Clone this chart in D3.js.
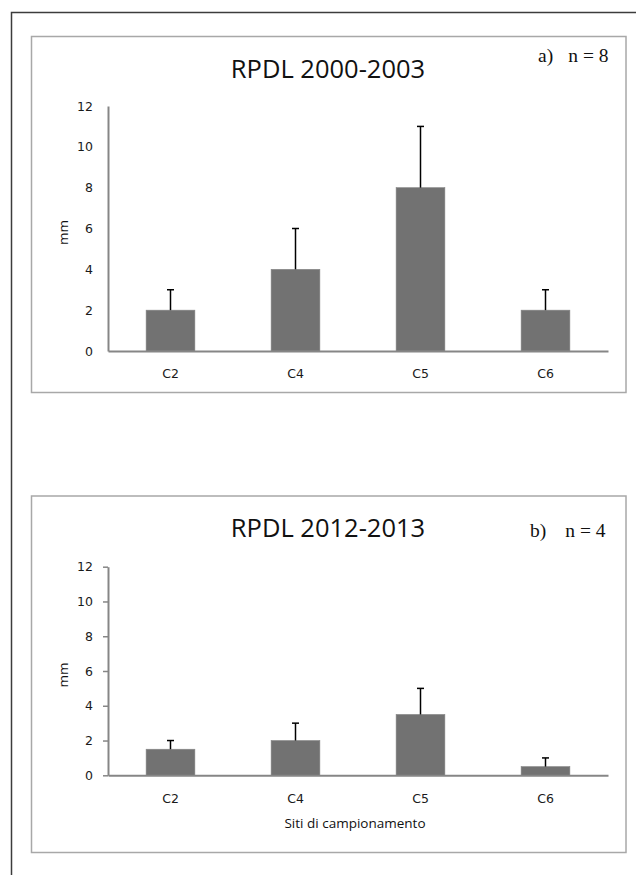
<!DOCTYPE html>
<html>
<head>
<meta charset="utf-8">
<script src="https://cdn.jsdelivr.net/npm/d3@7/dist/d3.min.js"></script>
<style>
  html, body { margin: 0; padding: 0; background: #fff; }
  svg { display: block; }
</style>
</head>
<body>
<script>
// ---- data ----
const categories = ["C2", "C4", "C5", "C6"];
const meansA = [2, 4, 8, 2];
const errorsA = [1, 2, 3, 1];
const meansB = [1.5, 2, 3.5, 0.5];
const errorsB = [0.5, 1, 1.5, 0.5];
const yTickValues = [0, 2, 4, 6, 8, 10, 12];
const titleA = "RPDL 2000-2003";
const titleB = "RPDL 2012-2013";
const tagA = ["a)", "n = 8"];
const tagB = ["b)", "n = 4"];
const yLabel = "mm";
const xLabel = "Siti di campionamento";

const W = 636, H = 875;
const svg = d3.select("body").append("svg").attr("width", W).attr("height", H);

// outer frame (extends beyond the picture to the right and bottom)
svg.append("path")
  .attr("d", `M${W + 5},12.5 H11.5 V${H + 5}`)
  .attr("fill", "none").attr("stroke", "#3c3c3c").attr("stroke-width", 1.5);

function panel(cfg) {
  const g = svg.append("g");
  g.append("rect")
    .attr("x", cfg.box[0]).attr("y", cfg.box[1])
    .attr("width", cfg.box[2] - cfg.box[0]).attr("height", cfg.box[3] - cfg.box[1])
    .attr("fill", "#fff").attr("stroke", "#a8a8a8").attr("stroke-width", 1.5);

  const x = d3.scaleBand().domain(categories).range([108, 608])
    .paddingInner(0.61).paddingOuter(0.305);
  const y = d3.scaleLinear().domain([0, 12]).range([cfg.y0, cfg.y12]);

  g.selectAll("rect.bar").data(categories).join("rect")
    .attr("class", "bar")
    .attr("x", d => x(d))
    .attr("width", x.bandwidth())
    .attr("y", (d, i) => y(cfg.means[i]))
    .attr("height", (d, i) => y(0) - y(cfg.means[i]))
    .attr("fill", "#727272")
    .attr("stroke", "#858585").attr("stroke-width", 0.6);

  const eb = g.selectAll("g.err").data(categories).join("g").attr("class", "err");
  eb.append("line")
    .attr("x1", d => x(d) + x.bandwidth() / 2).attr("x2", d => x(d) + x.bandwidth() / 2)
    .attr("y1", (d, i) => y(cfg.means[i]))
    .attr("y2", (d, i) => y(cfg.means[i] + cfg.errors[i]))
    .attr("stroke", "#000").attr("stroke-width", 1.5);
  eb.append("line")
    .attr("x1", d => x(d) + x.bandwidth() / 2 - 3.5).attr("x2", d => x(d) + x.bandwidth() / 2 + 3.5)
    .attr("y1", (d, i) => y(cfg.means[i] + cfg.errors[i]))
    .attr("y2", (d, i) => y(cfg.means[i] + cfg.errors[i]))
    .attr("stroke", "#000").attr("stroke-width", 1.5);

  const ya = g.append("g").attr("transform", "translate(108,0)")
    .call(d3.axisLeft(y).tickValues(yTickValues).tickFormat(d3.format("d"))
      .tickSizeInner(cfg.yTicks ? 5 : 0).tickSizeOuter(0)
      .tickPadding(cfg.yTicks ? 10 : 15));
  ya.select(".domain").attr("stroke", "#868686").attr("stroke-width", 2);
  ya.selectAll(".tick line").attr("stroke", "#868686").attr("stroke-width", 1.5);
  ya.selectAll(".tick text").attr("font-family", "DejaVu Sans").attr("font-size", 12.5).attr("fill", "#1a1a1a");

  const xa = g.append("g").attr("transform", `translate(0,${y(0)})`)
    .call(d3.axisBottom(x).tickSize(0).tickPadding(18.5));
  xa.select(".domain").attr("stroke", "#868686").attr("stroke-width", 2);
  xa.selectAll(".tick text").attr("font-family", "DejaVu Sans").attr("font-size", 12.5).attr("fill", "#1a1a1a");

  g.append("text").attr("x", 328).attr("y", cfg.titleY)
    .attr("text-anchor", "middle")
    .attr("font-family", "Open Sans").attr("font-size", 25.5).attr("fill", "#111")
    .text(cfg.title);

  g.append("text").attr("x", cfg.tagX0).attr("y", cfg.tagY)
    .attr("font-family", "Liberation Serif").attr("font-size", 19.5).attr("fill", "#111")
    .text(cfg.tag[0]);
  g.append("text").attr("x", cfg.tagX1).attr("y", cfg.tagY)
    .attr("text-anchor", "end")
    .attr("font-family", "Liberation Serif").attr("font-size", 19.5).attr("fill", "#111")
    .text(cfg.tag[1]);

  g.append("text")
    .attr("transform", `translate(68,${(y(0) + y(12)) / 2 + 4}) rotate(-90)`)
    .attr("text-anchor", "middle")
    .attr("font-family", "Open Sans").attr("font-size", 13.5).attr("fill", "#111")
    .text(yLabel);

  if (cfg.xTitle) {
    g.append("text").attr("x", 355).attr("y", cfg.xTitleY)
      .attr("text-anchor", "middle")
      .attr("font-family", "Open Sans").attr("font-size", 13.5).attr("fill", "#111")
      .text(cfg.xTitle);
  }
}

panel({
  box: [31.5, 36.5, 626, 392.5],
  y0: 351, y12: 106,
  means: meansA, errors: errorsA,
  yTicks: false,
  title: titleA, titleY: 77.5,
  tag: tagA, tagX0: 538, tagX1: 608.5, tagY: 61.5
});

panel({
  box: [31.5, 496, 626, 852.5],
  y0: 775.3, y12: 566.7,
  means: meansB, errors: errorsB,
  yTicks: true,
  title: titleB, titleY: 536.7,
  tag: tagB, tagX0: 530, tagX1: 605.5, tagY: 537,
  xTitle: xLabel, xTitleY: 828
});
</script>
</body>
</html>
